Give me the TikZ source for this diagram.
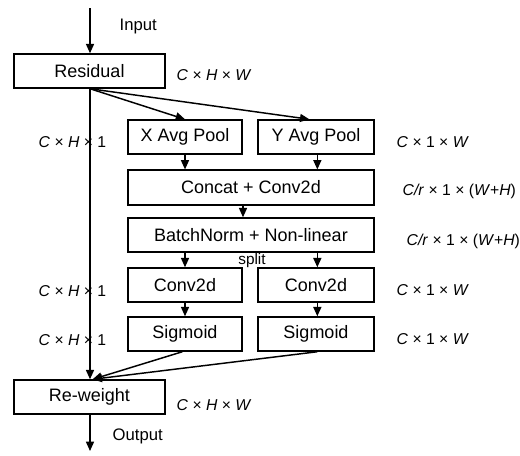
\documentclass[tikz,border=0pt]{standalone}
\usepackage{fontspec}
\setmainfont{Liberation Sans}
\usetikzlibrary{arrows.meta}
\newcommand{\iv}[1]{\textit{#1}}
\begin{document}
\begin{tikzpicture}[x=0.75pt,y=-0.75pt,
  line width=1.1pt,
  box/.style={draw, rectangle, inner sep=0pt, minimum height=25.5pt, font=\fontsize{13.5}{15}\selectfont},
  dim/.style={font=\fontsize{11.8}{13}\selectfont, anchor=west, inner sep=0pt},
  txt/.style={font=\fontsize{12.5}{14}\selectfont, inner sep=0pt},
  arr/.style={-{Triangle[length=7pt,width=6pt]}}]
\useasboundingbox (0,0) rectangle (520,455);

% main column
\node[box, minimum width=113.25pt] (res) at (89.5,71) {Residual};
\node[box, minimum width=113.25pt] (rw) at (89.5,397) {Re-weight};
\coordinate (in) at (90,8);
\coordinate (out) at (90,451);

% attention branch
\node[box, minimum width=85.5pt] (xp) at (185,137) {X Avg Pool};
\node[box, minimum width=87pt] (yp) at (316,137) {Y Avg Pool};
\node[box, minimum width=184.5pt, minimum height=26pt] (cc) at (251,187.5) {Concat + Conv2d};
\node[box, minimum width=184.5pt] (bn) at (251,235) {BatchNorm + Non-linear};
\node[box, minimum width=85.5pt] (cl) at (185,285) {Conv2d};
\node[box, minimum width=87pt] (cr) at (316,285) {Conv2d};
\node[box, minimum width=85.5pt] (sl) at (185,334) {Sigmoid};
\node[box, minimum width=87pt] (sr) at (316,334) {Sigmoid};

% labels
\node[txt, anchor=west] (lin) at (119,26) {Input};
\node[txt, anchor=west] (lout) at (112,436) {Output};
\node[txt, font=\fontsize{11.5}{12}\selectfont] (lsplit) at (252,261) {split};
\node[dim] (d1) at (176,75) {\iv{C} × \iv{H} × \iv{W}};
\node[dim] (d2) at (176,405) {\iv{C} × \iv{H} × \iv{W}};
\node[dim] (d3) at (396,142) {\iv{C} × 1 × \iv{W}};
\node[dim] (d4) at (402,191) {\iv{C/r} × 1 × (\iv{W}+\iv{H})};
\node[dim] (d5) at (406,241) {\iv{C/r} × 1 × (\iv{W}+\iv{H})};
\node[dim] (d6) at (396,290) {\iv{C} × 1 × \iv{W}};
\node[dim] (d7) at (396,339) {\iv{C} × 1 × \iv{W}};
\node[dim] (d8) at (38,142) {\iv{C} × \iv{H} × 1};
\node[dim] (d9) at (38,291) {\iv{C} × \iv{H} × 1};
\node[dim] (d10) at (38,340) {\iv{C} × \iv{H} × 1};

% connectors
\draw[arr] (in) -- (res.north -| in);
\draw[arr] (res.south -| in) -- (rw.north -| in);
\draw[arr] (rw.south -| in) -- (out);
\draw[arr] (res.south -| in) -- (xp.north);
\draw[arr] (res.south -| in) -- ([xshift=-5pt]yp.north);
\draw[arr] (xp.south) -- (xp.south |- cc.north);
\draw[arr] ([xshift=1pt]yp.south) -- ([xshift=1pt]yp.south |- cc.north);
\draw[arr] ([xshift=-6pt]cc.south) -- ([xshift=-6pt]bn.north);
\draw[arr] (bn.south -| cl) -- (cl.north);
\draw[arr] ([xshift=1pt]bn.south -| cr) -- ([xshift=1pt]cr.north);
\draw[arr] (cl) -- (sl);
\draw[arr] ([xshift=1pt]cr.south) -- ([xshift=1pt]sr.north);
\draw[arr] ([xshift=-2pt]sl.south) -- ([xshift=2pt]rw.north -| in);
\draw[arr] ([xshift=1pt]sr.south) -- ([xshift=2pt]rw.north -| in);
\end{tikzpicture}
\end{document}
